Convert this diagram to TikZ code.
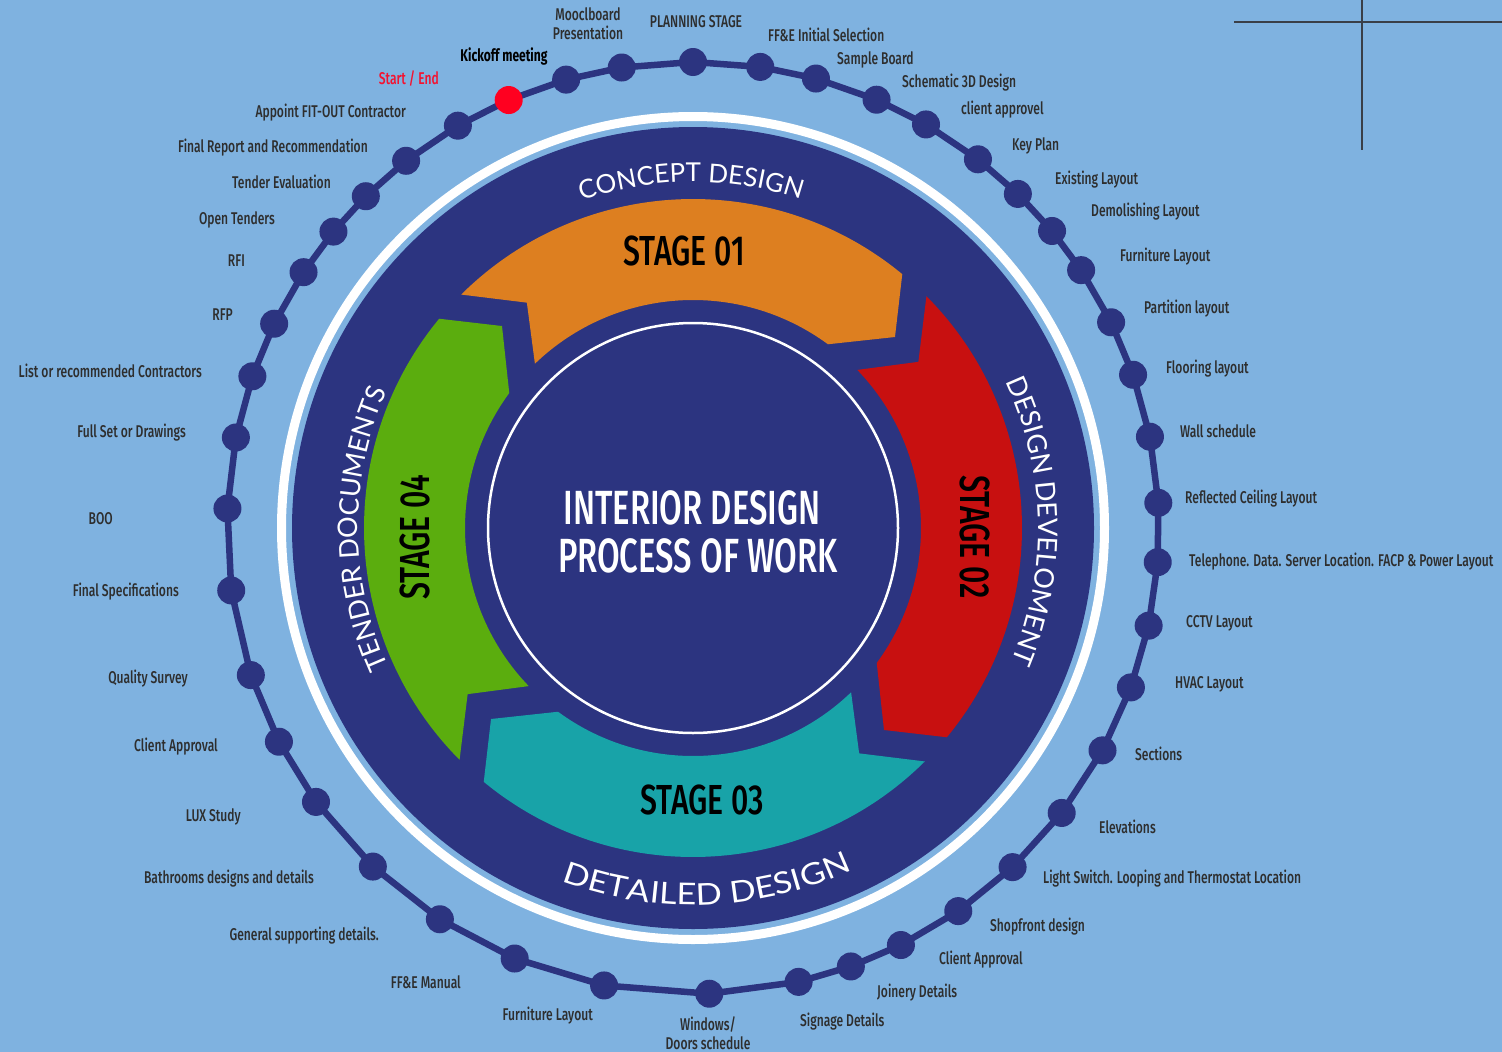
\documentclass[tikz,border=0pt]{standalone}
\usepackage{fontspec}
\usetikzlibrary{decorations.text}
\newfontfamily\labfont[FakeStretch=0.71, UprightFont={* Medium}, BoldFont={* Bold}]{Fira Sans}
\newfontfamily\bigfont[FakeStretch=0.72, UprightFont={* Medium}]{Fira Sans}
\newfontfamily\titlefont[FakeStretch=0.685, UprightFont={* Medium}]{Fira Sans}
\newfontfamily\arcfont{Lato}
\newfontfamily\arcfontwide[FakeStretch=1.15]{Lato}
\definecolor{bg}{HTML}{7FB2E0}
\definecolor{navy}{HTML}{2C3480}
\definecolor{sorange}{HTML}{DD7F20}
\definecolor{sred}{HTML}{C81010}
\definecolor{steal}{HTML}{18A3A8}
\definecolor{sgreen}{HTML}{5BAD0E}
\definecolor{labc}{HTML}{2E2E2E}
\definecolor{startred}{HTML}{F4122F}
\definecolor{dotred}{HTML}{FF0020}
\definecolor{cross}{HTML}{3A3F48}
\newcommand\stgshape[2]{%
  \fill[#2] ([shift={(C)}]{134.8-#1}:329) arc[start angle={134.8-#1}, end angle={50.5-#1}, radius=329]
    -- ([shift={(C)}]{43.4-#1}:278) -- ([shift={(C)}]{53.7-#1}:228)
    arc[start angle={53.7-#1}, end angle={133.9-#1}, radius=228]
    -- ([shift={(C)}]{126.4-#1}:280) -- cycle;}
\begin{document}
\begin{tikzpicture}[x=1pt,y=1pt,
  lab/.style={font=\labfont\fontsize{17}{19}\selectfont, text=labc, inner sep=0pt},
  lb/.style={lab, text height=12pt, text depth=3pt, yshift=-2pt},
  lbl/.style={lb, anchor=east},
  lbr/.style={lb, anchor=west},
  dot/.style={circle, fill=navy, minimum size=28pt, inner sep=0pt},
  stagetxt/.style={font=\bigfont\fontsize{42}{42}\selectfont, text=black, inner sep=0pt},
  titletxt/.style={font=\titlefont\fontsize{48}{48}\selectfont, text=white, inner sep=0pt, anchor=base},
  ringline/.style={draw=navy, line width=6.5pt},
  crossline/.style={draw=cross, line width=1.4pt}]
\fill[bg] (0,0) rectangle (1502,-1052);
\useasboundingbox (0,0) rectangle (1502,-1052);
\coordinate (C) at (693,-528);
% crosshair
\coordinate (h1) at (1234,-22); \coordinate (h2) at (1502,-22);
\coordinate (v1) at (1362,0); \coordinate (v2) at (1362,-150);
\draw[crossline] (h1) -- (h2);
\draw[crossline] (v1) -- (v2);
% main disc
\fill[navy] (C) circle[radius=401];
\draw[white, line width=9pt] (C) circle[radius=411.5];
\draw[white, line width=2.5pt] (C) circle[radius=205];
% stage shapes
\stgshape{0}{sorange}
\stgshape{90}{sred}
\stgshape{180}{steal}
\stgshape{270}{sgreen}
% stage labels
\node[stagetxt] (s1) at (684,-251) {STAGE 01};
\node[stagetxt, rotate=-90] (s2) at (975,-537) {STAGE 02};
\node[stagetxt] (s3) at (702,-800) {STAGE 03};
\node[stagetxt, rotate=90] (s4) at (415,-537) {STAGE 04};
% title
\node[titletxt] (t1) at (692,-524) {INTERIOR DESIGN};
\node[titletxt] (t2) at (698,-572) {PROCESS OF WORK};
% curved texts
\path[decorate, decoration={text along path, text align=center, text color=white,
  text={|\arcfont\fontsize{26}{26}\selectfont|CONCEPT DESIGN}}]
  ([shift={(C)}]150.3:346) arc[start angle=150.3, end angle=30.3, radius=346];
\path[decorate, decoration={text along path, text align=center, text color=white,
  text={|\arcfont\fontsize{27}{27}\selectfont|DESIGN DEVELOMENT}}]
  ([shift={(C)}]61.2:345) arc[start angle=61.2, end angle=-58.8, radius=345];
\path[decorate, decoration={text along path, text align=center, text color=white,
  text={|\arcfont\fontsize{27}{27}\selectfont|TENDER DOCUMENTS}}]
  ([shift={(C)}]240.2:335) arc[start angle=240.2, end angle=120.2, radius=335];
\path[decorate, decoration={text along path, text align=center, text color=white,
  text={|\arcfontwide\fontsize{30}{30}\selectfont|DETAILED DESIGN}}]
  ([shift={(C)}]212.3:377) arc[start angle=212.3, end angle=332.3, radius=377];
% ring of dots
\foreach \a [count=\i] in {113.3,105.8,98.8,90,81.7,74.7,66.8,60.0,52.3,45.8,39.6,33.6,26.2,19.2,11.3,3.1,-4.2,-12.1,-20.0,-28.5,-37.7,-46.7,-55.3,-63.5,-70.2,-76.9,-88.0,-101.0,-112.5,-122.9,-133.4,-144.0,-152.7,-161.6,-172.3,-182.4,-191.2,-199.0,-206.0,-213.3,-219.5,-225.4,-232.0,-239.7}
  \coordinate (p\i) at ([shift={(C)}]\a:466);
\foreach \i [evaluate=\i as \j using {int(mod(\i,44)+1)}] in {1,...,44}
  \draw[ringline] (p\i) -- (p\j);
\foreach \i in {2,...,44}
  \node[dot] (d\i) at (p\i) {};
\node[dot, fill=dotred] (d1) at (p1) {};
% labels
\node[lbl, text=startred] (l1) at (439,-78) {Start / End};
\node[lb, font=\labfont\bfseries\fontsize{17}{19}\selectfont, text=black] (l2) at (504,-55) {Kickoff meeting};
\node[lab, align=center] (l3) at (588,-24) {Mooclboard\\Presentation};
\node[lb] (l4) at (696,-21) {PLANNING STAGE};
\node[lbr] (l5) at (768,-35) {FF\&E Initial Selection};
\node[lbr] (l6) at (837,-58) {Sample Board};
\node[lbr] (l7) at (902,-81) {Schematic 3D Design};
\node[lbr] (l8) at (961,-108) {client approvel};
\node[lbr] (l9) at (1012,-144) {Key Plan};
\node[lbr] (l10) at (1055,-178) {Existing Layout};
\node[lbr] (l11) at (1091,-210) {Demolishing Layout};
\node[lbr] (l12) at (1120,-255) {Furniture Layout};
\node[lbr] (l13) at (1144,-307) {Partition layout};
\node[lbr] (l14) at (1166,-367) {Flooring layout};
\node[lbr] (l15) at (1180,-431) {Wall schedule};
\node[lbr] (l16) at (1185,-497) {Reflected Ceiling Layout};
\node[lbr] (l17) at (1189,-560) {Telephone. Data. Server Location. FACP \& Power Layout};
\node[lbr] (l18) at (1186,-621) {CCTV Layout};
\node[lbr] (l19) at (1175,-682) {HVAC Layout};
\node[lbr] (l20) at (1135,-754) {Sections};
\node[lbr] (l21) at (1099,-827) {Elevations};
\node[lbr] (l22) at (1043,-877) {Light Switch. Looping and Thermostat Location};
\node[lbr] (l23) at (990,-925) {Shopfront design};
\node[lbr] (l24) at (939,-958) {Client Approval};
\node[lbr] (l25) at (877,-991) {Joinery Details};
\node[lbr] (l26) at (800,-1020) {Signage Details};
\node[lab, align=center] (l27) at (708,-1033) {Windows/\\Doors schedule};
\node[lbl] (l28) at (593,-1014) {Furniture Layout};
\node[lbl] (l29) at (461,-982) {FF\&E Manual};
\node[lbl] (l30) at (379,-934) {General supporting details.};
\node[lbl] (l31) at (314,-877) {Bathrooms designs and details};
\node[lbl] (l32) at (241,-815) {LUX Study};
\node[lbl] (l33) at (218,-745) {Client Approval};
\node[lbl] (l34) at (188,-677) {Quality Survey};
\node[lbl] (l35) at (179,-590) {Final Specifications};
\node[lbl] (l36) at (113,-518) {BOO};
\node[lbl] (l37) at (186,-431) {Full Set or Drawings};
\node[lbl] (l38) at (202,-371) {List or recommended Contractors};
\node[lbl] (l39) at (233,-314) {RFP};
\node[lbl] (l40) at (245,-260) {RFI};
\node[lbl] (l41) at (275,-218) {Open Tenders};
\node[lbl] (l42) at (331,-182) {Tender Evaluation};
\node[lbl] (l43) at (368,-146) {Final Report and Recommendation};
\node[lbl] (l44) at (406,-111) {Appoint FIT-OUT Contractor};
\end{tikzpicture}
\end{document}
